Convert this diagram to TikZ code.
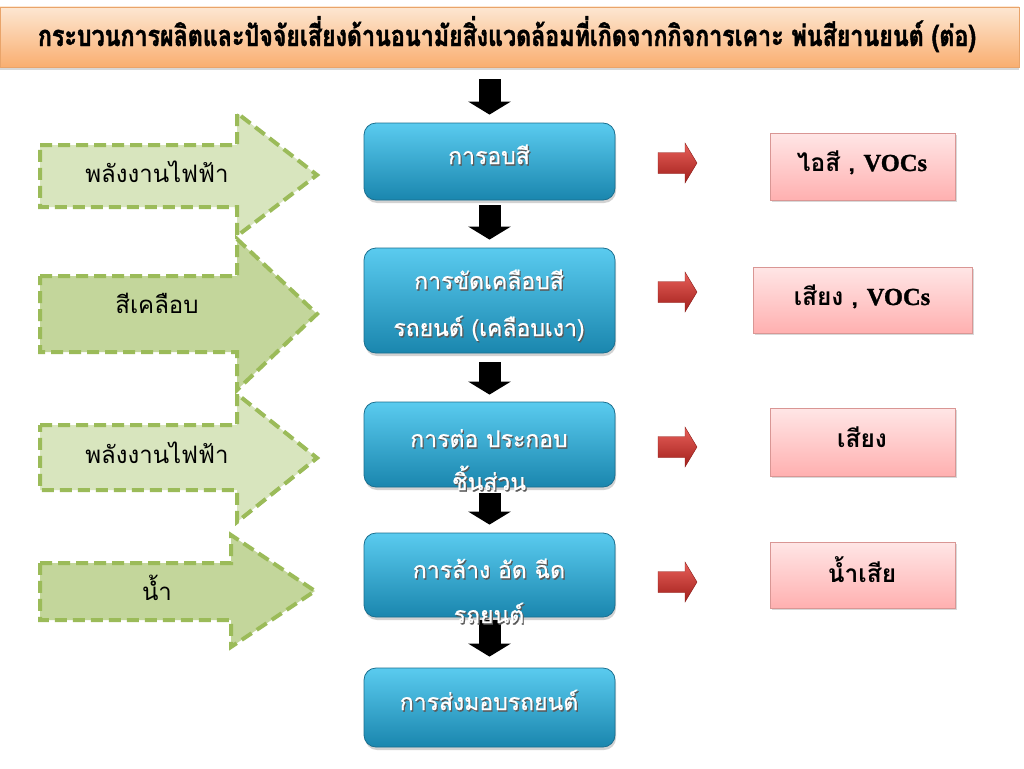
\documentclass[tikz,border=0pt]{standalone}
\usepackage{fontspec}
\usetikzlibrary{arrows.meta,shadows}
\newfontfamily\thai[Script=Thai]{Loma}
\newfontfamily\thaip[Script=Thai,FakeBold=0.8]{Loma}
\newfontfamily\thaicond[Script=Thai,FakeStretch=0.80,BoldFeatures={FakeBold=1.5}]{Loma}
\newfontfamily\vocfont[BoldFeatures={FakeBold=1.2}]{Liberation Serif}
\definecolor{peachT}{HTML}{FDE7D2}
\definecolor{peachB}{HTML}{F9AE70}
\definecolor{peachD}{HTML}{E9A46A}
\definecolor{procT}{HTML}{5ACBEF}
\definecolor{procB}{HTML}{1A86AE}
\definecolor{procD}{HTML}{1A6F8F}
\definecolor{gLight}{HTML}{D8E5BE}
\definecolor{gDark}{HTML}{C3D69B}
\definecolor{gBorder}{HTML}{9BBB59}
\definecolor{pinkT}{HTML}{FFE6E6}
\definecolor{pinkB}{HTML}{FFB0B0}
\definecolor{pinkD}{HTML}{D99694}
\definecolor{redT}{HTML}{E8605A}
\definecolor{redB}{HTML}{A11F1B}
\newcommand\proctext[3]{%
  \node[pshadow] at (#2) {#3};
  \node[ptext] (#1) at (#2) {#3};}
\newcommand\redarrow[1]{%
  \shade[redarr] (#1) ++(0,-10.5) -- ++(27,0) -- ++(0,-9.5) -- ++(12,20)
    -- ++(-12,20) -- ++(0,-9.5) -- ++(-27,0) -- cycle;}
\begin{document}
\begin{tikzpicture}[x=1pt,y=-1pt,
  titlebox/.style={draw=peachD, line width=0.8pt, top color=peachT, bottom color=peachB,
    minimum width=1019pt, minimum height=60pt, inner sep=0pt,
    drop shadow={opacity=0.3, shadow xshift=0pt, shadow yshift=-3pt}},
  titletext/.style={font=\thaicond\bfseries\fontsize{29}{32}\selectfont, inner sep=0pt, anchor=base},
  proc/.style={draw=procD, line width=0.8pt, rounded corners=12pt, top color=procT,
    bottom color=procB, minimum width=251pt, inner sep=0pt,
    drop shadow={opacity=0.35, shadow xshift=1pt, shadow yshift=-3pt}},
  ptext/.style={font=\thaip\fontsize{23}{26}\selectfont, text=white, inner sep=0pt, anchor=base},
  pshadow/.style={ptext, text=black!65, xshift=1.2pt, yshift=-1.5pt},
  gshape/.style={draw=gBorder, line width=4pt, dash pattern=on 12pt off 6pt},
  gtext/.style={font=\thai\fontsize{24}{28}\selectfont, inner sep=0pt, anchor=base},
  outbox/.style={draw=pinkD, line width=1pt, top color=pinkT, bottom color=pinkB,
    minimum width=185pt, inner sep=0pt,
    drop shadow={opacity=0.3, shadow xshift=1.5pt, shadow yshift=-2pt}},
  otext/.style={font=\thai\bfseries\fontsize{24.5}{28}\selectfont, inner sep=0pt, anchor=base},
  blk/.style={line width=22pt, black, -{Triangle[width=42pt,length=13pt]}},
  redarr/.style={top color=redT, bottom color=redB, draw=redB!85!black, line width=0.4pt}
]
\useasboundingbox (0,0) rectangle (1024,768);
\fill[white] (0,0) rectangle (1024,768);

% title
\node[titlebox] (title) at (509.5,37) {};
\node[titletext] (titlet) at (507,46) {กระบวนการผลิตและปัจจัยเสี่ยงด้านอนามัยสิ่งแวดล้อมที่เกิดจากกิจการเคาะ พ่นสียานยนต์ (ต่อ)};

% process boxes
\node[proc, minimum height=77pt] (p1) at (489.5,161.5) {};
\node[proc, minimum height=105pt] (p2) at (489.5,300.5) {};
\node[proc, minimum height=85pt] (p3) at (489.5,444.5) {};
\node[proc, minimum height=84pt] (p4) at (489.5,575) {};
\node[proc, minimum height=79pt] (p5) at (489.5,707.5) {};

% black arrows
\draw[blk, shorten <=12pt, shorten >=8pt] (title.south -| p1.north) -- (p1.north);
\draw[blk, shorten <=5pt, shorten >=8pt] (p1.south) -- (p2.north);
\draw[blk, shorten <=9pt, shorten >=7pt] (p2.south) -- (p3.north);
\draw[blk, shorten <=6pt, shorten >=8pt] (p3.south) -- (p4.north);
\draw[blk, shorten <=3pt, shorten >=11pt] (p4.south) -- (p5.north);

% process texts
\proctext{t1}{489,164}{การอบสี}
\proctext{t2a}{489,289}{การขัดเคลือบสี}
\proctext{t2b}{489,336}{รถยนต์ (เคลือบเงา)}
\proctext{t3a}{489,447}{การต่อ ประกอบ}
\proctext{t3b}{489,490}{ชิ้นส่วน}
\proctext{t4a}{489,578}{การล้าง อัด ฉีด}
\proctext{t4b}{489,623}{รถยนต์}
\proctext{t5}{489,710}{การส่งมอบรถยนต์}

% green input arrows
\draw[gshape, fill=gLight] (40,145) -- (237,145) -- (237,113) -- (317,175) -- (237,236)
  -- (237,207) -- (40,207) -- cycle;
\draw[gshape, fill=gDark] (40,276) -- (237,276) -- (237,239) -- (317,314) -- (237,390)
  -- (237,352) -- (40,352) -- cycle;
\draw[gshape, fill=gLight] (40,425) -- (237,425) -- (237,394) -- (317,458) -- (237,522)
  -- (237,490) -- (40,490) -- cycle;
\draw[gshape, fill=gDark] (40,563) -- (231,563) -- (231,535) -- (315,591) -- (231,647)
  -- (231,620) -- (40,620) -- cycle;
\node[gtext] (g1) at (157,182) {พลังงานไฟฟ้า};
\node[gtext] (g2) at (157,313) {สีเคลือบ};
\node[gtext] (g3) at (157,463) {พลังงานไฟฟ้า};
\node[gtext] (g4) at (157,600) {น้ำ};

% red arrows
\coordinate (ra1) at (658,163);
\coordinate (ra2) at (658,292);
\coordinate (ra3) at (658,447);
\coordinate (ra4) at (658,582);
\redarrow{ra1}
\redarrow{ra2}
\redarrow{ra3}
\redarrow{ra4}

% output boxes
\node[outbox, minimum height=67pt] (o1) at (862.5,166.5) {};
\node[outbox, minimum height=66pt, minimum width=219pt] (o2) at (862.5,300) {};
\node[outbox, minimum height=68pt] (o3) at (862.5,442) {};
\node[outbox, minimum height=66pt] (o4) at (862.5,575) {};
\node[otext] (ot1) at (862,171) {ไอสี , {\vocfont\bfseries VOCs}};
\node[otext] (ot2) at (862,305) {เสียง , {\vocfont\bfseries VOCs}};
\node[otext] (ot3) at (862,447) {เสียง};
\node[otext] (ot4) at (862,582) {น้ำเสีย};
\end{tikzpicture}
\end{document}
